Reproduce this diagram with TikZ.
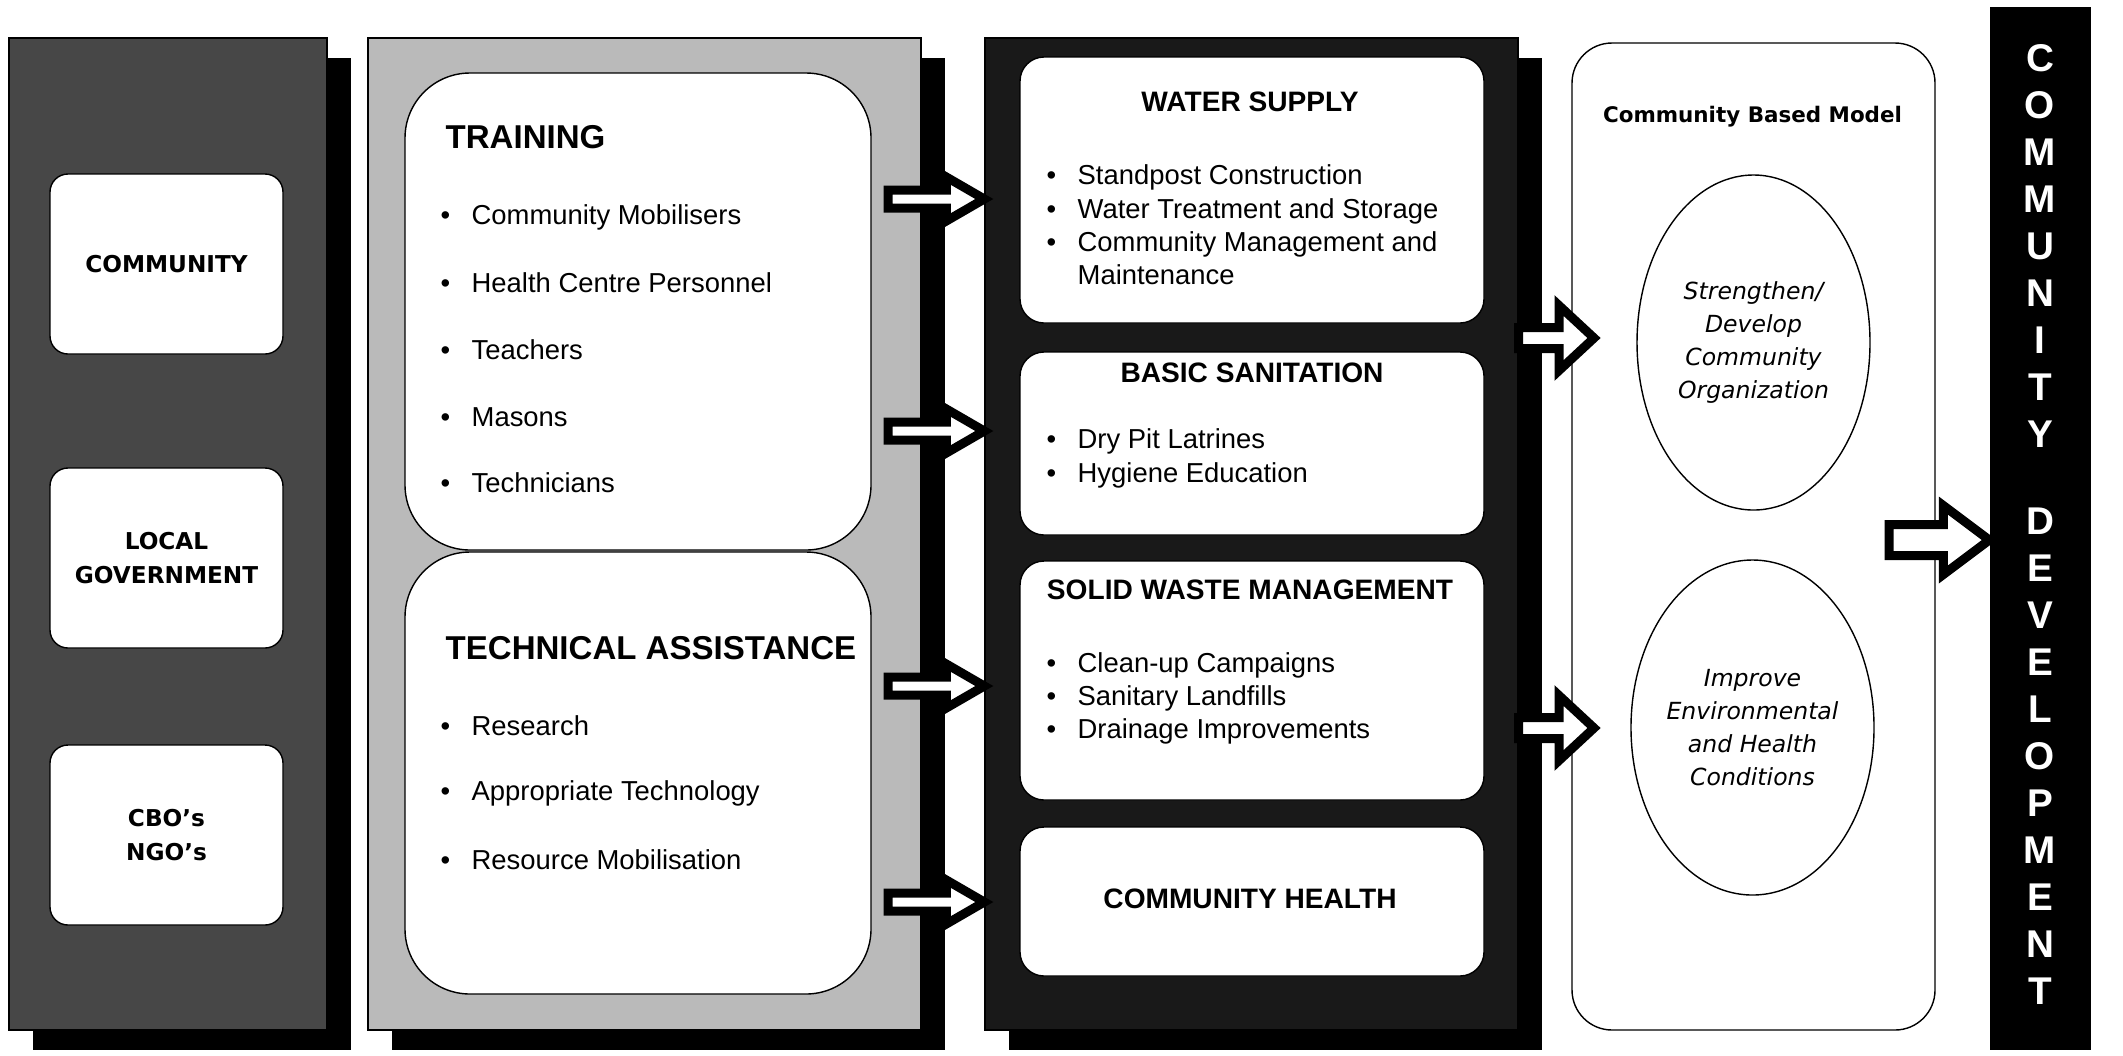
\documentclass[tikz,border=0pt]{standalone}
\usepackage{fontspec}
\setmainfont{Liberation Sans}
\newfontfamily\widefont{DejaVu Sans}
\usetikzlibrary{positioning, shapes.geometric, shadows, calc}

\newcommand{\itm}[1]{\makebox[3.1mm][l]{\textbullet}#1}
% tail, tip, body half, head half, head length
\newcommand{\fatarrow}[5]{%
  \draw[fatarrow] ($(#1)+(0,-#3)$) -- ($(#2)+(-#5,-#3)$) -- ($(#2)+(-#5,-#4)$) -- (#2)
    -- ($(#2)+(-#5,#4)$) -- ($(#2)+(-#5,#3)$) -- ($(#1)+(0,#3)$) -- cycle;}

\begin{document}
\begin{tikzpicture}[x=0.1mm, y=-0.1mm,
    panel/.style={draw, inner sep=0pt, minimum height=99.2mm,
      drop shadow={shadow xshift=2.4mm, shadow yshift=-2mm, fill=black, opacity=1}},
    card/.style={draw, fill=white, inner sep=0pt, align=center},
    lcard/.style={card, rounded corners=1.8mm, minimum width=23.3mm, minimum height=18mm,
      font=\widefont\bfseries\fontsize{6.6}{9.5}\selectfont},
    bigcard/.style={card, rounded corners=6.5mm, minimum width=46.6mm},
    scard/.style={card, rounded corners=2.4mm, minimum width=46.4mm},
    head/.style={inner sep=0pt, anchor=west, font=\bfseries\fontsize{9.4}{11}\selectfont},
    item/.style={inner sep=0pt, anchor=west, align=left, font=\fontsize{7.8}{9.5}\selectfont},
    shead/.style={inner sep=0pt, font=\bfseries\fontsize{8}{10}\selectfont},
    oval/.style={ellipse, draw, minimum width=23.3mm, minimum height=33.5mm, inner sep=0pt,
      align=center, font=\widefont\itshape\fontsize{6.7}{9.4}\selectfont},
    bartext/.style={anchor=north, inner sep=0pt, align=center, text=white,
      font=\bfseries\fontsize{11}{13.37}\selectfont},
    fatarrow/.style={draw, fill=white, line width=0.9mm, line join=miter}]
    \useasboundingbox (0,0) rectangle (2123,1055);

    % actors
    \node[panel, fill=black!72, minimum width=31.8mm] (p1) at (168,534) {};
    \node[lcard] (com) at (166.5,264) {COMMUNITY};
    \node[lcard] (gov) at (166.5,558) {LOCAL\\GOVERNMENT};
    \node[lcard] (ngo) at (166.5,835) {CBO’s\\NGO’s};

    % support
    \node[panel, fill=black!27, minimum width=55.3mm] (p2) at (644.5,534) {};
    \node[bigcard, minimum height=47.7mm] (trn) at (638,311.5) {};
    \node[bigcard, minimum height=44.2mm] (tec) at (638,773) {};
    \node[head] (trnh) at (445,137) {TRAINING};
    \node[item] (t1) at (440,217) {\itm{Community Mobilisers}};
    \node[item] (t2) at (440,283) {\itm{Health Centre Personnel}};
    \node[item] (t3) at (440,350) {\itm{Teachers}};
    \node[item] (t4) at (440,417) {\itm{Masons}};
    \node[item] (t5) at (440,483) {\itm{Technicians}};
    \node[head] (tech) at (445,648) {TECHNICAL ASSISTANCE};
    \node[item] (r1) at (440,726) {\itm{Research}};
    \node[item] (r2) at (440,793) {\itm{Appropriate Technology}};
    \node[item] (r3) at (440,860) {\itm{Resource Mobilisation}};

    % services
    \node[panel, fill=black!90, minimum width=53.3mm] (p3) at (1251.5,534) {};
    \node[scard, minimum height=26.6mm] (wat) at (1252,190) {};
    \node[scard, minimum height=18.3mm] (san) at (1252,443.5) {};
    \node[scard, minimum height=23.9mm] (swm) at (1252,680.5) {};
    \node[scard, minimum height=14.9mm] (hea) at (1252,901.5) {};
    \node[shead] (wath) at (1250,102) {WATER SUPPLY};
    \node[item] (watl) at (1046,225) {\itm{Standpost Construction}\\
      \itm{Water Treatment and Storage}\\ \itm{Community Management and}\\
      \hspace*{3.1mm}Maintenance};
    \node[shead] (sanh) at (1252,373) {BASIC SANITATION};
    \node[item] (sanl) at (1046,458.5) {\itm{Dry Pit Latrines}\\ \itm{Hygiene Education}};
    \node[shead] (swmh) at (1250,590) {SOLID WASTE MANAGEMENT};
    \node[item] (swml) at (1046,698.5) {\itm{Clean-up Campaigns}\\ \itm{Sanitary Landfills}\\
      \itm{Drainage Improvements}};
    \node[shead] (heah) at (1250,899) {COMMUNITY HEALTH};

    % model
    \node[draw, rounded corners=4mm, minimum width=36.3mm, minimum height=98.7mm,
      inner sep=0pt] (cbm) at (1753.5,536.5) {};
    \node[inner sep=0pt, font=\widefont\bfseries\fontsize{6.1}{8}\selectfont] (cbmh)
      at (1752.5,117) {Community Based Model};
    \node[oval] (ell1) at (1753.5,342.5) {Strengthen/\\Develop\\Community\\Organization};
    \node[oval] (ell2) at (1752.5,727.5) {Improve\\Environmental\\and Health\\Conditions};

    % goal
    \node[fill=black, minimum width=10.1mm, minimum height=104.3mm, inner sep=0pt] (bar)
      at (2040.5,528.5) {};
    \node[bartext] (cd1) at (2040,44) {C\\O\\M\\M\\U\\N\\I\\T\\Y};
    \node[bartext] (cd2) at (2040,507) {D\\E\\V\\E\\L\\O\\P\\M\\E\\N\\T};

    % arrows
    \coordinate (a1) at (888,199);
    \coordinate (a2) at (888,431);
    \coordinate (a3) at (888,686);
    \coordinate (a4) at (888,902);
    \fatarrow{a1}{p3.west |- a1}{9}{22}{38}
    \fatarrow{a2}{p3.west |- a2}{9}{22}{38}
    \fatarrow{a3}{p3.west |- a3}{9}{22}{38}
    \fatarrow{a4}{p3.west |- a4}{9}{22}{38}
    \coordinate (b1) at (1594,338);
    \coordinate (b2) at (1594,728);
    \fatarrow{p3.east |- b1}{b1}{10.5}{32.5}{35}
    \fatarrow{p3.east |- b2}{b2}{10.5}{32.5}{35}
    \coordinate (c1) at (1889,540);
    \fatarrow{c1}{bar.west |- c1}{15.5}{34.5}{46}
\end{tikzpicture}
\end{document}
